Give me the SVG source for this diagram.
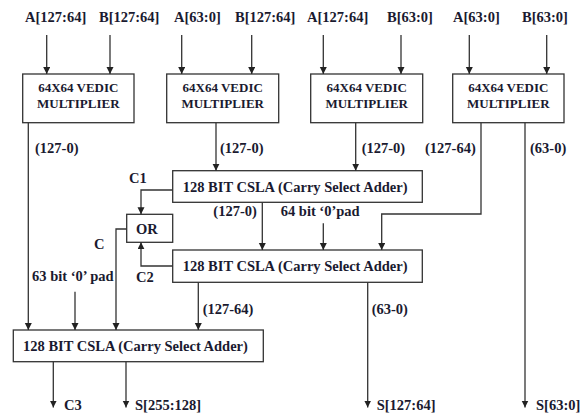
<svg xmlns="http://www.w3.org/2000/svg" width="587" height="416" viewBox="0 0 587 416">
<defs>
<marker id="ah" markerUnits="userSpaceOnUse" markerWidth="8" markerHeight="8" refX="7" refY="3.5" orient="auto">
<path d="M0,0 L7,3.5 L0,7 Z" fill="#222"/>
</marker>
<style>
.box{fill:#fff;stroke:#333;stroke-width:1.3}
.ln{fill:none;stroke:#333;stroke-width:1.3}
.ar{marker-end:url(#ah)}
text{font-family:"Liberation Serif","Times New Roman",serif;font-weight:bold;fill:#1a1a30}
.t{font-size:14.5px}
.bt{font-size:13px;text-anchor:middle}
</style>
</defs>
<rect width="587" height="416" fill="#fff"/>

<g id="inputs">
<text class="t" x="25" y="22">A[127:64]</text>
<text class="t" x="99" y="22">B[127:64]</text>
<text class="t" x="174" y="22">A[63:0]</text>
<text class="t" x="235" y="22">B[127:64]</text>
<text class="t" x="307" y="22">A[127:64]</text>
<text class="t" x="387" y="22">B[63:0]</text>
<text class="t" x="453" y="22">A[63:0]</text>
<text class="t" x="522" y="22">B[63:0]</text>
</g>

<g id="mult1">
<rect class="box" x="22.7" y="74" width="111.3" height="48.7"/>
<text class="bt" x="78.3" y="91.7">64X64 VEDIC</text>
<text class="bt" x="78.3" y="108.3">MULTIPLIER</text>
</g>
<g id="mult2">
<rect class="box" x="166.7" y="74" width="112" height="48.7"/>
<text class="bt" x="222.7" y="91.7">64X64 VEDIC</text>
<text class="bt" x="222.7" y="108.3">MULTIPLIER</text>
</g>
<g id="mult3">
<rect class="box" x="310.7" y="74" width="112" height="48.7"/>
<text class="bt" x="366.7" y="91.7">64X64 VEDIC</text>
<text class="bt" x="366.7" y="108.3">MULTIPLIER</text>
</g>
<g id="mult4">
<rect class="box" x="452.7" y="74" width="111.3" height="48.7"/>
<text class="bt" x="508.3" y="91.7">64X64 VEDIC</text>
<text class="bt" x="508.3" y="108.3">MULTIPLIER</text>
</g>

<g id="csla1">
<rect class="box" x="172.7" y="170.7" width="249.6" height="31.6"/>
<text class="t" x="182.7" y="192">128 BIT CSLA (Carry Select Adder)</text>
</g>
<g id="csla2">
<rect class="box" x="172.7" y="250" width="249.6" height="32.3"/>
<text class="t" x="182.7" y="271">128 BIT CSLA (Carry Select Adder)</text>
</g>
<g id="or">
<rect class="box" x="126.7" y="214.3" width="46" height="28"/>
<text class="t" x="136" y="233.5">OR</text>
</g>
<g id="csla3">
<rect class="box" x="13.3" y="330" width="250" height="31.7"/>
<text class="t" x="23" y="351">128 BIT CSLA (Carry Select Adder)</text>
</g>

<g id="connectors">
<line class="ln ar" x1="46.7" y1="35" x2="46.7" y2="74"/>
<line class="ln ar" x1="110" y1="35" x2="110" y2="74"/>
<line class="ln ar" x1="181.7" y1="35" x2="181.7" y2="74"/>
<line class="ln ar" x1="251.7" y1="35" x2="251.7" y2="74"/>
<line class="ln ar" x1="323.3" y1="35" x2="323.3" y2="74"/>
<line class="ln ar" x1="401" y1="35" x2="401" y2="74"/>
<line class="ln ar" x1="469.3" y1="35" x2="469.3" y2="74"/>
<line class="ln ar" x1="546.7" y1="35" x2="546.7" y2="74"/>

<line class="ln ar" x1="28.3" y1="122.7" x2="28.3" y2="330"/>
<line class="ln ar" x1="216" y1="122.7" x2="216" y2="170.7"/>
<line class="ln ar" x1="355.7" y1="122.7" x2="355.7" y2="170.7"/>
<polyline class="ln ar" points="481,122.7 481,214 381.7,214 381.7,250"/>
<line class="ln ar" x1="525" y1="122.7" x2="525" y2="407.5"/>

<polyline class="ln ar" points="172.7,190 141,190 141,214.3"/>
<polyline class="ln ar" points="172.7,266 141,266 141,242.3"/>
<polyline class="ln ar" points="126.7,229 116,229 116,330"/>

<line class="ln ar" x1="262.3" y1="202.3" x2="262.3" y2="250"/>
<line class="ln ar" x1="323.3" y1="223.3" x2="323.3" y2="250"/>
<line class="ln ar" x1="75" y1="291.7" x2="75" y2="330"/>
<line class="ln ar" x1="198.3" y1="282.3" x2="198.3" y2="330"/>
<line class="ln ar" x1="367.7" y1="282.3" x2="367.7" y2="407.5"/>
<line class="ln ar" x1="53.3" y1="361.7" x2="53.3" y2="407.5"/>
<line class="ln ar" x1="126" y1="361.7" x2="126" y2="407.5"/>
</g>

<g id="labels">
<text class="t" x="35" y="152.7">(127-0)</text>
<text class="t" x="220" y="152.7">(127-0)</text>
<text class="t" x="361.7" y="152.7">(127-0)</text>
<text class="t" x="425" y="152.7">(127-64)</text>
<text class="t" x="530" y="152.7">(63-0)</text>
<text class="t" x="129" y="183.3">C1</text>
<text class="t" x="213.3" y="216">(127-0)</text>
<text class="t" x="280.7" y="216">64 bit ‘0’pad</text>
<text class="t" x="94" y="249">C</text>
<text class="t" x="32" y="281">63 bit ‘0’ pad</text>
<text class="t" x="136" y="281.7">C2</text>
<text class="t" x="202.7" y="313.5">(127-64)</text>
<text class="t" x="371.7" y="314.3">(63-0)</text>
<text class="t" x="64" y="410">C3</text>
<text class="t" x="135" y="410">S[255:128]</text>
<text class="t" x="376.7" y="410">S[127:64]</text>
<text class="t" x="536" y="410">S[63:0]</text>
</g>
</svg>
